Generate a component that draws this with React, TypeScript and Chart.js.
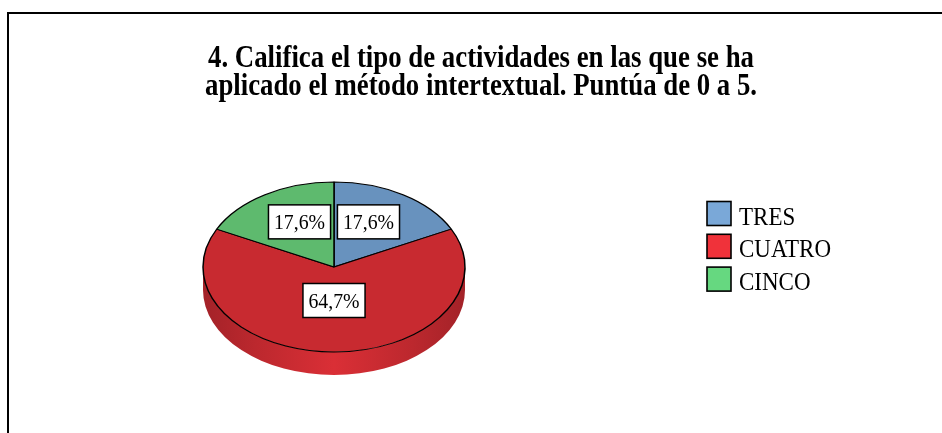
import React, { useEffect, useRef } from "react";
import { Chart, registerables } from "chart.js";

Chart.register(...registerables);

// ---- data ----
const TITLE_LINES = [
  "4. Califica el tipo de actividades en las que se ha",
  "aplicado el método intertextual. Puntúa de 0 a 5.",
];
const CATEGORIES = ["TRES", "CUATRO", "CINCO"];
const VALUES = [3, 11, 3];

// ---- styles ----
const TOP_COLORS = ["#6892BE", "#C82A30", "#5EBA6E"];
const LEGEND_COLORS = ["#7AA8D8", "#F0323A", "#66D880"];
const SIDE_DARK = ["#4E7299", "#A32228", "#46904F"];
const SIDE_MID = ["#668BB5", "#BC282E", "#58A866"];
const SIDE_LIGHT = ["#7FA6CF", "#DA2F36", "#6FCB80"];
const SQUASH = 85 / 131;
const DEPTH = 23;
const SERIF = "'Liberation Serif', 'Times New Roman', serif";

function drawText(
  ctx: CanvasRenderingContext2D,
  text: string,
  x: number,
  y: number,
  sx: number,
  sy: number
) {
  ctx.save();
  ctx.translate(x, y);
  ctx.scale(sx, sy);
  ctx.fillText(text, 0, 0);
  ctx.restore();
}

const pie3d = {
  id: "pie3d",
  beforeDraw(chart: any) {
    const ctx: CanvasRenderingContext2D = chart.ctx;
    ctx.save();
    ctx.fillStyle = "#fff";
    ctx.fillRect(0, 0, chart.width, chart.height);
    ctx.fillStyle = "#000";
    ctx.fillRect(7, 12, 2, chart.height - 12);
    ctx.fillRect(7, 12, chart.width - 7, 2);

    // title
    ctx.font = `bold 27px ${SERIF}`;
    ctx.textAlign = "center";
    ctx.textBaseline = "alphabetic";
    const targets = [546, 552];
    const baselines = [66.5, 95];
    TITLE_LINES.forEach((line, i) => {
      const w = ctx.measureText(line).width;
      drawText(ctx, line, 481, baselines[i], targets[i] / w, 1.17);
    });

    // legend
    ctx.font = `23px ${SERIF}`;
    ctx.textAlign = "left";
    CATEGORIES.forEach((c, i) => {
      const top = 201.5 + i * 32.8;
      ctx.fillStyle = LEGEND_COLORS[i];
      ctx.fillRect(707, top, 24, 24);
      ctx.strokeStyle = "#000";
      ctx.lineWidth = 1.6;
      ctx.strokeRect(707, top, 24, 24);
      ctx.fillStyle = "#000";
      drawText(ctx, c, 739, top + 23, 1, 1.07);
    });
    ctx.restore();
  },
  beforeDatasetsDraw(chart: any) {
    const meta = chart.getDatasetMeta(0);
    const ctx: CanvasRenderingContext2D = chart.ctx;
    const first = meta.data[0];
    const cx = first.x;
    const cy = first.y;
    const r = first.outerRadius;
    const ry = r * SQUASH;
    ctx.save();
    meta.data.forEach((arc: any, i: number) => {
      const s = arc.startAngle;
      const e = arc.endAngle;
      for (const off of [-2 * Math.PI, 0, 2 * Math.PI]) {
        const lo = Math.max(s, off);
        const hi = Math.min(e, off + Math.PI);
        if (hi > lo) {
          const g = ctx.createLinearGradient(cx - r, 0, cx + r, 0);
          g.addColorStop(0, SIDE_DARK[i]);
          g.addColorStop(0.2, SIDE_MID[i]);
          g.addColorStop(0.5, SIDE_LIGHT[i]);
          g.addColorStop(0.8, SIDE_MID[i]);
          g.addColorStop(1, SIDE_DARK[i]);
          ctx.fillStyle = g;
          ctx.beginPath();
          ctx.ellipse(cx, cy, r, ry, 0, lo - off, hi - off, false);
          ctx.ellipse(cx, cy + DEPTH, r, ry, 0, hi - off, lo - off, true);
          ctx.closePath();
          ctx.fill();
        }
      }
    });
    ctx.translate(cx, cy);
    ctx.scale(1, SQUASH);
    ctx.translate(-cx, -cy);
  },
  afterDatasetsDraw(chart: any) {
    const ctx: CanvasRenderingContext2D = chart.ctx;
    ctx.restore();
    const meta = chart.getDatasetMeta(0);
    const data: number[] = chart.data.datasets[0].data;
    const total = data.reduce((a, b) => a + b, 0);
    ctx.save();
    ctx.font = `19.8px ${SERIF}`;
    ctx.textAlign = "center";
    ctx.textBaseline = "alphabetic";
    meta.data.forEach((arc: any, i: number) => {
      const p = arc.tooltipPosition(false);
      const x = p.x;
      const y = arc.y + (p.y - arc.y) * SQUASH - 9;
      const label = ((data[i] / total) * 100).toFixed(1).replace(".", ",") + "%";
      const w = ctx.measureText(label).width + 11;
      const h = 34;
      ctx.fillStyle = "#fff";
      ctx.fillRect(x - w / 2, y - h / 2, w, h);
      ctx.strokeStyle = "#000";
      ctx.lineWidth = 1.5;
      ctx.strokeRect(x - w / 2, y - h / 2, w, h);
      ctx.fillStyle = "#000";
      drawText(ctx, label, x, y + 7.5, 1, 1.08);
    });
    ctx.restore();
  },
};

export default function App() {
  const ref = useRef<HTMLCanvasElement>(null);
  useEffect(() => {
    const chart = new Chart(ref.current as HTMLCanvasElement, {
      type: "pie",
      data: {
        labels: CATEGORIES,
        datasets: [
          {
            data: VALUES,
            backgroundColor: TOP_COLORS,
            borderColor: "#000",
            borderWidth: 1.5,
            radius: 131,
          } as any,
        ],
      },
      options: {
        responsive: false,
        animation: false,
        devicePixelRatio: 1,
        events: [],
        layout: { padding: { left: 190, right: 464, top: 131, bottom: 30 } },
        plugins: {
          legend: { display: false },
          title: { display: false },
          tooltip: { enabled: false },
        },
      } as any,
      plugins: [pie3d],
    });
    return () => chart.destroy();
  }, []);
  return (
    <div style={{ position: "absolute", left: 0, top: 0, width: 942, height: 433 }}>
      <canvas ref={ref} width={942} height={433} style={{ display: "block" }} />
    </div>
  );
}
